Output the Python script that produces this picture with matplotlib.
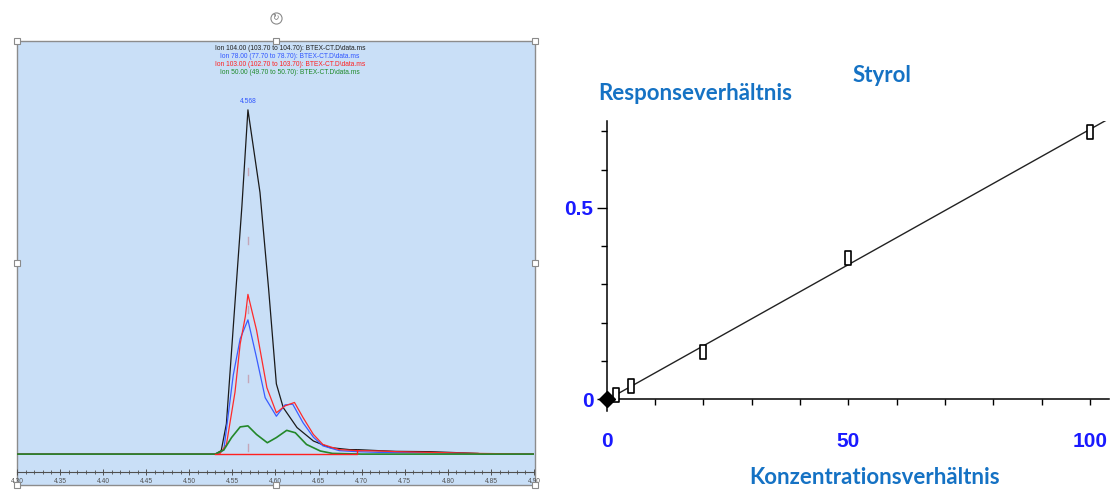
import numpy as np
import matplotlib
matplotlib.use("Agg")
import matplotlib.pyplot as plt
from matplotlib.patches import Rectangle
from matplotlib.lines import Line2D
from matplotlib.path import Path
from matplotlib.ticker import MultipleLocator, FixedLocator, FormatStrFormatter

# --- chromatogram traces (retention time [min], abundance [% of ion 104 peak]) ---
ion104_t = [4.30, 4.530, 4.537, 4.543, 4.551, 4.561, 4.568, 4.582, 4.592, 4.601, 4.609,
            4.625, 4.644, 4.663, 4.686, 4.695, 4.720, 4.740, 4.780, 4.835, 4.840, 4.90]
ion104_y = [0, 0, 1.0, 8.8, 37, 72, 100, 76, 48, 20.4, 13.5,
            7.7, 3.8, 1.9, 1.3, 1.3, 1.0, 0.8, 0.7, 0.2, 0, 0]

ion78_t = [4.30, 4.533, 4.540, 4.551, 4.559, 4.568, 4.578, 4.588, 4.601, 4.611, 4.620,
           4.632, 4.644, 4.655, 4.674, 4.695, 4.720, 4.780, 4.835, 4.860, 4.90]
ion78_y = [0, 0, 1.2, 23, 33.5, 39, 28, 16.4, 11, 14.3, 14.5,
           9.1, 4.9, 2.4, 1.0, 0.7, 0.5, 0.4, 0.1, 0, 0]

ion103_t = [4.30, 4.535, 4.543, 4.553, 4.559, 4.565, 4.568, 4.578, 4.590, 4.601, 4.611,
            4.622, 4.632, 4.644, 4.655, 4.674, 4.695, 4.720, 4.740, 4.780, 4.835, 4.90]
ion103_y = [0, 0, 2.7, 18, 32, 40, 46.4, 36, 19.3, 12, 14,
            15, 10.6, 5.7, 2.8, 1.3, 1.0, 0.9, 0.7, 0.5, 0.2, 0]

ion50_t = [4.30, 4.530, 4.540, 4.549, 4.559, 4.568, 4.578, 4.5905, 4.601, 4.613, 4.623,
           4.636, 4.652, 4.666, 4.700, 4.90]
ion50_y = [0, 0, 1.2, 4.8, 7.9, 8.2, 5.7, 3.3, 4.8, 6.9, 6.2,
           2.8, 0.9, 0.2, 0, 0]

integ_t = [4.530, 4.695, 4.695]
integ_y = [0, 0, 1.1]

peak_rt = 4.568
header_lines = [
    "Ion 104.00 (103.70 to 104.70): BTEX-CT.D\\data.ms",
    "Ion 78.00 (77.70 to 78.70): BTEX-CT.D\\data.ms",
    "Ion 103.00 (102.70 to 103.70): BTEX-CT.D\\data.ms",
    "Ion 50.00 (49.70 to 50.70): BTEX-CT.D\\data.ms",
]
header_colors = ["#202020", "#2f55ff", "#ff2020", "#1f8a2a"]

# --- calibration (Styrol) ---
conc = [2, 5, 20, 50, 100]
ratio = [0.010, 0.035, 0.124, 0.370, 0.699]
blank_conc = [0]
blank_ratio = [0]

W, H = 1117, 492
BG = "#c9dff7"
TICKBLUE = "#1a1aff"
TITLEBLUE = "#1572c4"


def fx(px):
    return px / W


def fy(py):
    return 1 - py / H


fig = plt.figure(figsize=(W / 100, H / 100), dpi=100)

# frame of the pasted chromatogram
fig.add_artist(Rectangle((fx(17), fy(485)), (535 - 17) / W, (485 - 41) / H,
                         transform=fig.transFigure, facecolor=BG,
                         edgecolor="#8c8c8c", lw=1.0, zorder=0))

axL = fig.add_axes([fx(17), fy(472), (534 - 17) / W, (472 - 41) / H])
axL.set_facecolor("none")
axL.set_xlim(4.30, 4.90)
axL.set_ylim(-5.2, 120)
for s in ["top", "left", "right"]:
    axL.spines[s].set_visible(False)
axL.spines["bottom"].set_color("#505050")
axL.spines["bottom"].set_linewidth(0.8)
axL.set_yticks([])
axL.xaxis.set_major_locator(MultipleLocator(0.05))
axL.xaxis.set_minor_locator(MultipleLocator(0.01))
axL.xaxis.set_major_formatter(FormatStrFormatter("%.2f"))
axL.tick_params(axis="x", which="major", direction="inout", length=5, width=0.7,
                labelsize=4.8, pad=1.5, colors="#505050")
axL.tick_params(axis="x", which="minor", direction="inout", length=3, width=0.6,
                colors="#505050")
for lab in axL.get_xticklabels():
    lab.set_family("Liberation Sans")

axL.plot(ion104_t, ion104_y, color="#1a1a1a", lw=0.9)
axL.plot(ion78_t, ion78_y, color="#3a5cff", lw=0.9)
axL.plot(ion103_t, ion103_y, color="#ff2a2a", lw=0.9)
axL.plot(ion50_t, ion50_y, color="#23882a", lw=1.2)
axL.plot(integ_t, integ_y, color="#ff2020", lw=1.0)

for yy in np.arange(2, 83, 20):
    axL.plot([peak_rt, peak_rt], [yy - 1, yy + 1], color="#c4a6b8", lw=1.0)
axL.text(peak_rt, 101.5, "%.3f" % peak_rt, color="#2f55ff", fontsize=4.8,
         family="Liberation Sans", ha="center", va="bottom")

for i, (txt, col) in enumerate(zip(header_lines, header_colors)):
    fig.text(fx(290), fy(48.3 + 8.2 * i), txt, color=col, fontsize=4.8,
             family="Liberation Sans", ha="center", va="center")

# selection handles
for hx, hy in [(17, 41), (276, 41), (535, 41), (17, 263), (535, 263),
               (17, 485), (276, 485), (535, 485)]:
    fig.add_artist(Line2D([fx(hx)], [fy(hy)], marker="s", ms=5, mfc="white",
                          mec="#8a8a8a", mew=0.8, transform=fig.transFigure))
fig.add_artist(Line2D([fx(276)], [fy(18)], marker="o", ms=8, mfc="white",
                      mec="#8a8a8a", mew=0.8, transform=fig.transFigure))
fig.text(fx(276), fy(18), "\u21bb", fontsize=5.5, color="#707070",
         ha="center", va="center")

# --- calibration plot ---
axR = fig.add_axes([fx(606.7), fy(410.5), (1109.4 - 606.7) / W, (410.5 - 121) / H])
axR.set_xlim(0, 104)
axR.set_ylim(-0.03, 0.727)
axR.spines["top"].set_visible(False)
axR.spines["right"].set_visible(False)
axR.spines["bottom"].set_position(("data", 0))
for s in ["left", "bottom"]:
    axR.spines[s].set_linewidth(1.1)

axR.xaxis.set_major_locator(FixedLocator([0, 50, 100]))
axR.xaxis.set_minor_locator(MultipleLocator(10))
axR.yaxis.set_major_locator(FixedLocator([0, 0.5]))
axR.yaxis.set_minor_locator(MultipleLocator(0.1))
axR.set_xticklabels(["0", "50", "100"])
axR.set_yticklabels(["0", "0.5"])
axR.tick_params(axis="x", which="both", direction="out", length=4, width=1.0, pad=20)
axR.tick_params(axis="y", which="major", direction="out", length=7, width=1.0, pad=2.5)
axR.tick_params(axis="y", which="minor", direction="out", length=4.5, width=1.0)
for lab in axR.get_xticklabels() + axR.get_yticklabels():
    lab.set_family(["Liberation Sans Narrow", "Liberation Sans"])
    lab.set_weight("bold")
    lab.set_fontsize(15)
    lab.set_color(TICKBLUE)

coef = np.polyfit(blank_conc + conc, blank_ratio + ratio, 1)
xs = np.array(axR.get_xlim())
axR.plot(xs, np.polyval(coef, xs), color="#222222", lw=1.0, zorder=2)

rect = Path([(-0.5, -1), (0.5, -1), (0.5, 1), (-0.5, 1), (-0.5, -1)],
            [Path.MOVETO, Path.LINETO, Path.LINETO, Path.LINETO, Path.CLOSEPOLY])
axR.plot(conc, ratio, linestyle="none", marker=rect, ms=10, mfc="white",
         mec="black", mew=1.2, zorder=3, clip_on=False)
axR.plot(blank_conc, blank_ratio, linestyle="none", marker="D", ms=8,
         color="black", zorder=4, clip_on=False)

title_kw = dict(family="Lato", weight="bold", fontsize=16, color=TITLEBLUE,
                ha="center", va="center")
fig.text(fx(695), fy(93), "Responseverhältnis", **title_kw)
fig.text(fx(882), fy(75), "Styrol", **title_kw)
fig.text(fx(875), fy(478), "Konzentrationsverhältnis", **title_kw)

fig.savefig("out.png", dpi=100)
